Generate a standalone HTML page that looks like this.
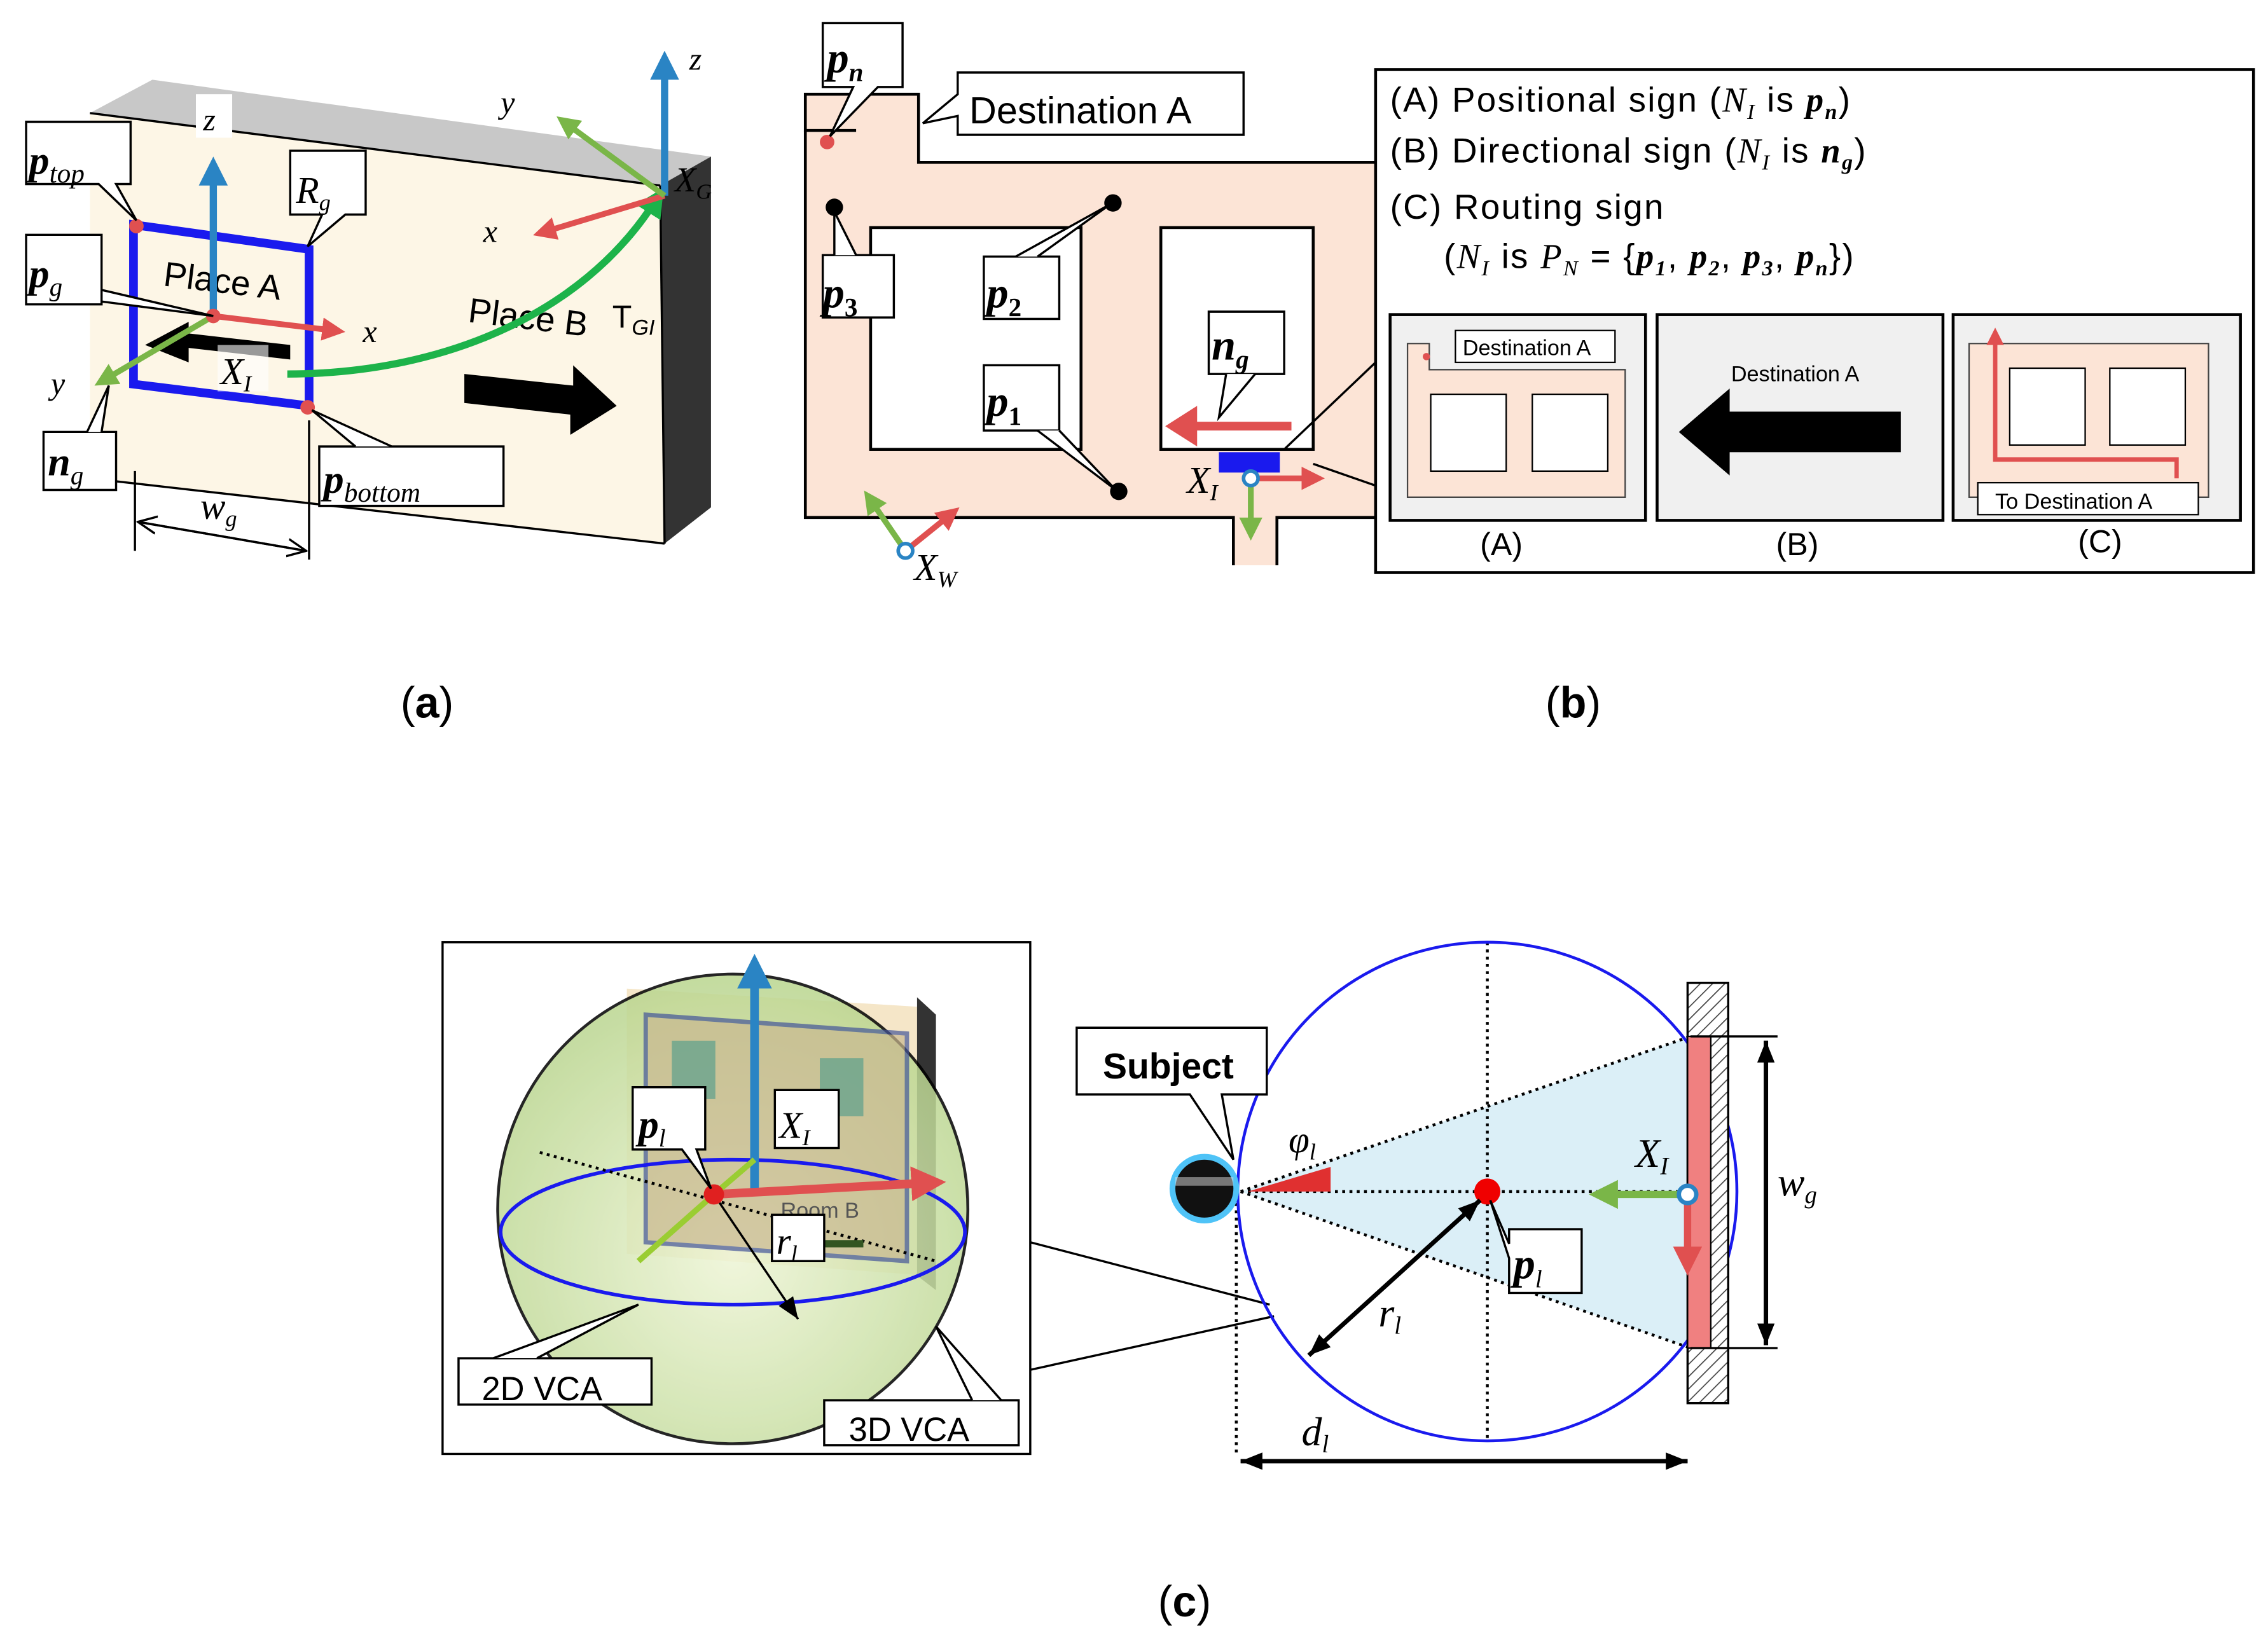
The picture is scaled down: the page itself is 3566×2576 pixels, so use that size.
<!DOCTYPE html>
<html><head><meta charset="utf-8"><style>html,body{margin:0;padding:0;background:#fff}svg{display:block}
text{font-family:"Liberation Sans",sans-serif}
.m{font-family:"Liberation Serif",serif;font-style:italic}
.b{font-family:"Liberation Serif",serif;font-style:italic;font-weight:bold}
</style></head><body>
<svg width="3566" height="2576" viewBox="0 0 1563 1130" preserveAspectRatio="none" xmlns="http://www.w3.org/2000/svg">
<defs>
<marker id="ar" markerWidth="4" markerHeight="4" refX="2" refY="2" orient="auto"><path d="M0,0L4,2L0,4z" fill="#e05050"/></marker>
<marker id="ab" markerWidth="4" markerHeight="4" refX="2" refY="2" orient="auto"><path d="M0,0L4,2L0,4z" fill="#2a84c4"/></marker>
<marker id="ag" markerWidth="4" markerHeight="4" refX="2" refY="2" orient="auto"><path d="M0,0L4,2L0,4z" fill="#7ab648"/></marker>
<marker id="agg" markerWidth="4" markerHeight="4" refX="2" refY="2" orient="auto"><path d="M0,0L4,2L0,4z" fill="#1db34a"/></marker>
<marker id="ak" markerUnits="userSpaceOnUse" markerWidth="14" markerHeight="14" refX="13" refY="7" orient="auto"><path d="M0,1L13,7L0,13" fill="none" stroke="#000" stroke-width="1.5"/></marker>
<marker id="ak2" markerUnits="userSpaceOnUse" markerWidth="16" markerHeight="16" refX="15" refY="8" orient="auto"><path d="M0,2L15,8L0,14z" fill="#000"/></marker>
<pattern id="hatch" width="6" height="6" patternUnits="userSpaceOnUse" patternTransform="rotate(45)"><rect width="6" height="6" fill="#fff"/><line x1="0" y1="0" x2="0" y2="6" stroke="#444" stroke-width="1.5"/></pattern>
<radialGradient id="sph" cx="0.5" cy="0.6" r="0.6"><stop offset="0" stop-color="#eef5d6"/><stop offset="1" stop-color="#b9d58e"/></radialGradient>
</defs>

<!-- ===== (a) ===== -->
<polygon points="62,78 105,55 490,108 455,128" fill="#c8c8c8"/>
<polygon points="455,128 490,108 490,350 458,375" fill="#333"/>
<polygon points="62,78 455,128 458,375 62,330" fill="#fdf6e6"/>
<line x1="62" y1="78" x2="455" y2="128" stroke="#000" stroke-width="1.5"/>
<line x1="455" y1="128" x2="458" y2="375" stroke="#000" stroke-width="1.5"/>
<line x1="62" y1="330" x2="458" y2="375" stroke="#000" stroke-width="1.5"/>
<text x="112" y="197" font-size="24" transform="rotate(7 112 197)">Place A</text>
<text x="322" y="222" font-size="24" transform="rotate(7 322 222)">Place B</text>
<text x="422" y="226" font-size="22" font-family="Liberation Serif">T<tspan font-style="italic" font-size="15" dy="5">GI</tspan></text>
<polygon points="100,238 130,222 130,230 200,238 200,248 130,240 130,250" fill="#000"/>
<polygon points="320,258 395,266 395,252 425,280 393,300 393,286 320,278" fill="#000"/>
<polygon points="92,155 213,172 213,280 92,265" fill="none" stroke="#1a1aee" stroke-width="6"/>
<line x1="147" y1="218" x2="147" y2="118" stroke="#2a84c4" stroke-width="5" marker-end="url(#ab)"/>
<line x1="147" y1="218" x2="230" y2="228" stroke="#e05050" stroke-width="4" marker-end="url(#ar)"/>
<line x1="147" y1="218" x2="72" y2="262" stroke="#7ab648" stroke-width="4" marker-end="url(#ag)"/>
<circle cx="147" cy="218" r="5" fill="#e05050"/>
<circle cx="94" cy="156" r="5" fill="#e05050"/>
<circle cx="212" cy="281" r="5" fill="#e05050"/>
<path d="M198,258 C300,258 400,220 452,138" fill="none" stroke="#1db34a" stroke-width="5" marker-end="url(#agg)"/>
<line x1="458" y1="135" x2="458" y2="45" stroke="#2a84c4" stroke-width="5" marker-end="url(#ab)"/>
<line x1="458" y1="135" x2="375" y2="160" stroke="#e05050" stroke-width="4" marker-end="url(#ar)"/>
<line x1="458" y1="135" x2="390" y2="85" stroke="#7ab648" stroke-width="4" marker-end="url(#ag)"/>
<rect x="135" y="65" width="25" height="30" fill="#fff"/><text x="140" y="90" class="m" font-size="22">z</text>
<text x="475" y="48" class="m" font-size="22">z</text>
<text x="345" y="78" class="m" font-size="22">y</text>
<text x="333" y="167" class="m" font-size="22">x</text>
<text x="465" y="132" class="m" font-size="24">X<tspan font-size="15" dy="5">G</tspan></text>
<text x="250" y="236" class="m" font-size="22">x</text>
<text x="35" y="272" class="m" font-size="22">y</text>
<rect x="150" y="238" width="35" height="32" fill="#fff" opacity="0.6"/>
<text x="152" y="265" class="m" font-size="26">X<tspan font-size="16" dy="5">I</tspan></text>
<g fill="#fff" stroke="#000" stroke-width="1.5">
<path d="M18,84 H90 V127 H80 L94,152 L68,127 H18 Z"/>
<path d="M200,104 H252 V148 H238 L212,170 L222,148 H200 Z"/>
<path d="M18,162 H70 V208 L147,218 L70,200 V210 H18 Z"/>
<path d="M30,298 H80 V338 H30 Z"/><path d="M60,298 L75,266 L70,298" />
<path d="M220,308 H347 V349 H220 Z"/><path d="M245,308 L215,283 L270,308"/>
</g>
<text x="20" y="120" class="b" font-size="28">p<tspan font-size="19" dy="6" font-weight="normal">top</tspan></text>
<text x="204" y="140" class="m" font-size="26">R<tspan font-size="16" dy="5">g</tspan></text>
<text x="20" y="198" class="b" font-size="28">p<tspan font-size="18" dy="6" font-weight="normal">g</tspan></text>
<text x="33" y="328" class="b" font-size="28">n<tspan font-size="18" dy="6" font-weight="normal">g</tspan></text>
<text x="223" y="340" class="b" font-size="28">p<tspan font-size="19" dy="6" font-weight="normal">bottom</tspan></text>
<line x1="93" y1="325" x2="93" y2="380" stroke="#000" stroke-width="1.5"/>
<line x1="213" y1="290" x2="213" y2="386" stroke="#000" stroke-width="1.5"/>
<line x1="95" y1="360" x2="211" y2="380" stroke="#000" stroke-width="1.5" marker-end="url(#ak)"/>
<line x1="211" y1="380" x2="95" y2="360" stroke="#000" stroke-width="1.5" marker-end="url(#ak)"/>
<text x="138" y="358" class="m" font-size="26">w<tspan font-size="16" dy="5">g</tspan></text>
<text x="276" y="495" font-family="Liberation Serif" font-size="30">(<tspan font-weight="bold">a</tspan>)</text>

<!-- ===== (b) ===== -->
<polygon points="555,65 633,65 633,112 950,112 950,357 880,357 880,390 850,390 850,357 555,357" fill="#fce4d6"/>
<polyline points="590,90 555,90 555,65 633,65 633,112 950,112" fill="none" stroke="#000" stroke-width="2"/>
<polyline points="950,357 880,357 880,390" fill="none" stroke="#000" stroke-width="2"/>
<polyline points="850,390 850,357 555,357 555,90" fill="none" stroke="#000" stroke-width="2"/>
<rect x="600" y="157" width="145" height="153" fill="#fff" stroke="#000" stroke-width="2"/>
<rect x="800" y="157" width="105" height="153" fill="#fff" stroke="#000" stroke-width="2"/>
<circle cx="570" cy="98" r="5" fill="#e05050"/>
<circle cx="575" cy="143" r="6" fill="#000"/>
<circle cx="767" cy="140" r="6" fill="#000"/>
<circle cx="771" cy="339" r="6" fill="#000"/>
<rect x="840" y="312" width="42" height="14" fill="#1a1aee"/>
<path d="M890,294 H815" stroke="#e05050" stroke-width="6" fill="none"/>
<polygon points="803,294 825,280 825,308" fill="#e05050"/>
<line x1="862" y1="330" x2="905" y2="330" stroke="#e05050" stroke-width="4" marker-end="url(#ar)"/>
<line x1="862" y1="330" x2="862" y2="365" stroke="#7ab648" stroke-width="4" marker-end="url(#ag)"/>
<circle cx="862" cy="330" r="5" fill="#fff" stroke="#2a84c4" stroke-width="2.5"/>
<line x1="624" y1="380" x2="655" y2="355" stroke="#e05050" stroke-width="4" marker-end="url(#ar)"/>
<line x1="624" y1="380" x2="600" y2="345" stroke="#7ab648" stroke-width="4" marker-end="url(#ag)"/>
<circle cx="624" cy="380" r="5" fill="#fff" stroke="#2a84c4" stroke-width="2.5"/>
<text x="818" y="340" class="m" font-size="26">X<tspan font-size="16" dy="5">I</tspan></text>
<text x="630" y="400" class="m" font-size="26">X<tspan font-size="16" dy="5">W</tspan></text>
<g fill="#fff" stroke="#000" stroke-width="1.5">
<path d="M567,16 H622 V60 H605 L572,94 L588,60 H567 Z"/>
<path d="M660,50 H857 V93 H660 V80 L636,85 L660,65 Z"/>
<path d="M567,176 H616 V219 H567 Z"/><path d="M575,176 L575,146 L590,176"/>
<path d="M678,177 H730 V220 H678 Z"/><path d="M700,177 L765,141 L715,177"/>
<path d="M678,252 H730 V297 H678 Z"/><path d="M715,297 L769,338 L730,297"/>
<path d="M833,215 H885 V258 H833 Z"/><path d="M845,258 L840,288 L865,258"/>
</g>
<text x="570" y="50" class="b" font-size="30">p<tspan font-size="18" dy="6">n</tspan></text>
<text x="668" y="85" font-size="26">Destination A</text>
<text x="567" y="212" class="b" font-size="30">p<tspan font-size="18" dy="6" font-style="normal">3</tspan></text>
<text x="680" y="212" class="b" font-size="30">p<tspan font-size="18" dy="6" font-style="normal">2</tspan></text>
<text x="680" y="287" class="b" font-size="30">p<tspan font-size="18" dy="6" font-style="normal">1</tspan></text>
<text x="835" y="248" class="b" font-size="30">n<tspan font-size="18" dy="6">g</tspan></text>
<line x1="885" y1="310" x2="948" y2="250" stroke="#000" stroke-width="1.5"/>
<line x1="905" y1="320" x2="948" y2="335" stroke="#000" stroke-width="1.5"/>
<rect x="948" y="48" width="605" height="347" fill="#fff" stroke="#000" stroke-width="2"/>
<g font-size="24" letter-spacing="1">
<text x="958" y="77">(A) Positional sign (<tspan class="m">N<tspan font-size="15" dy="5">I</tspan></tspan><tspan dy="-5"> is </tspan><tspan class="b">p<tspan font-size="15" dy="5">n</tspan></tspan><tspan dy="-5">)</tspan></text>
<text x="958" y="112">(B) Directional sign (<tspan class="m">N<tspan font-size="15" dy="5">I</tspan></tspan><tspan dy="-5"> is </tspan><tspan class="b">n<tspan font-size="15" dy="5">g</tspan></tspan><tspan dy="-5">)</tspan></text>
<text x="958" y="151">(C) Routing sign</text>
<text x="995" y="185">(<tspan class="m">N<tspan font-size="15" dy="5">I</tspan></tspan><tspan dy="-5"> is </tspan><tspan class="m">P<tspan font-size="15" dy="5">N</tspan></tspan><tspan dy="-5"> = {</tspan><tspan class="b">p<tspan font-size="15" dy="5">1</tspan></tspan><tspan dy="-5">, </tspan><tspan class="b">p<tspan font-size="15" dy="5">2</tspan></tspan><tspan dy="-5">, </tspan><tspan class="b">p<tspan font-size="15" dy="5">3</tspan></tspan><tspan dy="-5">, </tspan><tspan class="b">p<tspan font-size="15" dy="5">n</tspan></tspan><tspan dy="-5">})</tspan></text>
</g>
<rect x="958" y="217" width="176" height="142" fill="#f0f0f0" stroke="#000" stroke-width="2"/>
<rect x="1142" y="217" width="197" height="142" fill="#f0f0f0" stroke="#000" stroke-width="2"/>
<rect x="1346" y="217" width="198" height="142" fill="#f0f0f0" stroke="#000" stroke-width="2"/>
<path d="M970,237 H985 V255 H1120 V343 H970 Z" fill="#fce4d6" stroke="#444" stroke-width="1"/>
<rect x="986" y="272" width="52" height="53" fill="#fff" stroke="#000"/>
<rect x="1056" y="272" width="52" height="53" fill="#fff" stroke="#000"/>
<rect x="1003" y="228" width="110" height="22" fill="#fff" stroke="#000"/>
<text x="1008" y="245" font-size="15">Destination A</text>
<circle cx="983" cy="246" r="2.5" fill="#e05050"/>
<text x="1193" y="263" font-size="15">Destination A</text>
<polygon points="1157,298 1192,268 1192,284 1310,284 1310,312 1192,312 1192,328" fill="#000"/>
<path d="M1357,237 H1522 V343 H1357 Z" fill="#fce4d6" stroke="#444"/>
<rect x="1385" y="254" width="52" height="53" fill="#fff" stroke="#000"/>
<rect x="1454" y="254" width="52" height="53" fill="#fff" stroke="#000"/>
<path d="M1500,330 V317 H1375 V232" stroke="#e05050" stroke-width="3" fill="none" marker-end="url(#ar)"/>
<rect x="1363" y="333" width="152" height="22" fill="#fff" stroke="#000"/>
<text x="1375" y="351" font-size="15">To Destination A</text>
<text x="1020" y="383" font-size="22">(A)</text>
<text x="1224" y="383" font-size="22">(B)</text>
<text x="1432" y="381" font-size="22">(C)</text>
<text x="1065" y="495" font-family="Liberation Serif" font-size="30">(<tspan font-weight="bold">b</tspan>)</text>

<!-- ===== (c) left ===== -->
<rect x="305" y="650" width="405" height="353" fill="#fff" stroke="#000" stroke-width="1.5"/>
<polygon points="432,682 640,695 640,880 432,865" fill="#f5e6c8"/>
<polygon points="632,688 645,700 645,890 632,880" fill="#333"/>
<circle cx="505" cy="834" r="162" fill="url(#sph)" opacity="0.85" stroke="#000" stroke-width="2"/>
<polygon points="445,700 625,713 625,870 445,857" fill="#c9b890" stroke="#445599" stroke-width="3" opacity="0.7"/>
<rect x="463" y="718" width="30" height="40" fill="#4a9a8a" opacity="0.6"/>
<rect x="565" y="730" width="30" height="40" fill="#4a9a8a" opacity="0.6"/>
<text x="538" y="840" font-size="15" fill="#555">Room B</text>
<ellipse cx="505" cy="850" rx="160" ry="50" fill="none" stroke="#1a1aee" stroke-width="2.5"/>
<line x1="520" y1="825" x2="520" y2="670" stroke="#2a84c4" stroke-width="6" marker-end="url(#ab)"/>
<line x1="492" y1="824" x2="640" y2="816" stroke="#e05050" stroke-width="6" marker-end="url(#ar)"/>
<line x1="492" y1="824" x2="440" y2="870" stroke="#9acd32" stroke-width="4"/>
<line x1="492" y1="824" x2="520" y2="800" stroke="#9acd32" stroke-width="4"/>
<line x1="372" y1="795" x2="645" y2="870" stroke="#000" stroke-width="2" stroke-dasharray="2,3"/>
<line x1="492" y1="824" x2="550" y2="910" stroke="#000" stroke-width="1.5" marker-end="url(#ak2)"/>
<line x1="563" y1="858" x2="595" y2="858" stroke="#335522" stroke-width="5"/>
<circle cx="492" cy="824" r="7" fill="#e02020"/>
<g fill="#fff" stroke="#000" stroke-width="1.5">
<path d="M436,750 H486 V793 H480 L490,820 L470,793 H436 Z"/>
<rect x="534" y="752" width="44" height="40"/>
<rect x="532" y="838" width="36" height="32"/>
<path d="M316,937 H449 V969 H316 Z"/><path d="M340,937 L440,900 L370,937"/>
<path d="M568,966 H702 V997 H568 Z"/><path d="M670,966 L645,915 L690,966"/>
</g>
<text x="440" y="785" class="b" font-size="28">p<tspan font-size="17" dy="6" font-weight="normal">l</tspan></text>
<text x="537" y="785" class="m" font-size="26">X<tspan font-size="16" dy="5">I</tspan></text>
<text x="535" y="865" class="m" font-size="26">r<tspan font-size="16" dy="5">l</tspan></text>
<text x="332" y="966" font-size="23">2D VCA</text>
<text x="585" y="994" font-size="23">3D VCA</text>
<line x1="710" y1="857" x2="875" y2="900" stroke="#000" stroke-width="1.5"/>
<line x1="710" y1="945" x2="878" y2="908" stroke="#000" stroke-width="1.5"/>

<!-- ===== (c) right ===== -->
<polygon points="855,822 1165,715 1165,930" fill="#dbeff7"/>
<line x1="855" y1="822" x2="1165" y2="715" stroke="#000" stroke-width="2" stroke-dasharray="2,3"/>
<line x1="855" y1="822" x2="1165" y2="930" stroke="#000" stroke-width="2" stroke-dasharray="2,3"/>
<line x1="855" y1="822" x2="1165" y2="822" stroke="#000" stroke-width="2" stroke-dasharray="2,3"/>
<line x1="1025" y1="650" x2="1025" y2="995" stroke="#000" stroke-width="2" stroke-dasharray="2,3"/>
<line x1="852" y1="830" x2="852" y2="1005" stroke="#000" stroke-width="2" stroke-dasharray="2,3"/>
<circle cx="1025" cy="822" r="172" fill="none" stroke="#1a1aee" stroke-width="2"/>
<polygon points="860,822 917,805 917,822" fill="#e03030"/>
<rect x="1163" y="678" width="28" height="290" fill="url(#hatch)" stroke="#000" stroke-width="1.5"/>
<rect x="1163" y="715" width="16" height="215" fill="#f08080" stroke="#000" stroke-width="1"/>
<line x1="1163" y1="826" x2="1163" y2="870" stroke="#e05050" stroke-width="5" marker-end="url(#ar)"/>
<line x1="1163" y1="824" x2="1105" y2="824" stroke="#7ab648" stroke-width="5" marker-end="url(#ag)"/>
<circle cx="1163" cy="824" r="6" fill="#fff" stroke="#2a84c4" stroke-width="3"/>
<circle cx="1025" cy="822" r="9" fill="#f00000"/>
<line x1="1020" y1="828" x2="902" y2="935" stroke="#000" stroke-width="3" marker-end="url(#ak2)"/>
<line x1="902" y1="935" x2="1020" y2="828" stroke="#000" stroke-width="3" marker-end="url(#ak2)"/>
<line x1="1165" y1="715" x2="1225" y2="715" stroke="#000" stroke-width="1.5"/>
<line x1="1165" y1="930" x2="1225" y2="930" stroke="#000" stroke-width="1.5"/>
<line x1="1217" y1="718" x2="1217" y2="928" stroke="#000" stroke-width="3" marker-end="url(#ak2)"/>
<line x1="1217" y1="928" x2="1217" y2="718" stroke="#000" stroke-width="3" marker-end="url(#ak2)"/>
<line x1="855" y1="1008" x2="1163" y2="1008" stroke="#000" stroke-width="3" marker-end="url(#ak2)"/>
<line x1="1163" y1="1008" x2="855" y2="1008" stroke="#000" stroke-width="3" marker-end="url(#ak2)"/>
<circle cx="830" cy="820" r="24" fill="#4fc3f7"/>
<circle cx="830" cy="820" r="20" fill="#111"/>
<rect x="810" y="812" width="40" height="6" fill="#ddd" opacity="0.5"/>
<g fill="#fff" stroke="#000" stroke-width="1.5">
<path d="M742,709 H873 V755 H842 L850,800 L820,755 H742 Z"/>
<path d="M1040,848 H1090 V892 H1040 V868 L1027,828 L1040,858 Z"/>
</g>
<text x="760" y="744" font-size="25" font-weight="bold">Subject</text>
<text x="888" y="795" class="m" font-size="26">φ<tspan font-size="16" dy="5">l</tspan></text>
<text x="1127" y="805" class="m" font-size="28">X<tspan font-size="17" dy="5">I</tspan></text>
<text x="1043" y="882" class="b" font-size="30">p<tspan font-size="17" dy="6" font-weight="normal">l</tspan></text>
<text x="950" y="915" class="m" font-size="28">r<tspan font-size="17" dy="5">l</tspan></text>
<text x="1225" y="825" class="m" font-size="28">w<tspan font-size="17" dy="5">g</tspan></text>
<text x="897" y="997" class="m" font-size="28">d<tspan font-size="17" dy="5">l</tspan></text>
<text x="798" y="1115" font-family="Liberation Serif" font-size="30">(<tspan font-weight="bold">c</tspan>)</text>
</svg>
</body></html>
